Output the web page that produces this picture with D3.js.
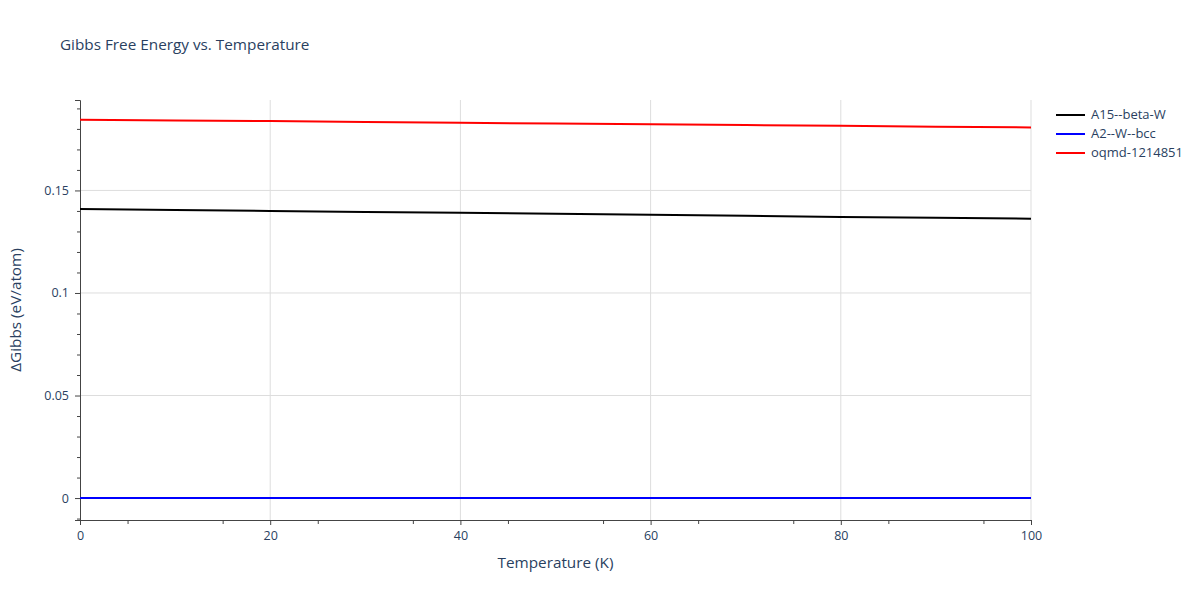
<!DOCTYPE html><html><head><meta charset="utf-8"><script src="https://d3js.org/d3.v7.min.js"></script>
<style>body{margin:0;background:#fff}text{font-family:"Open Sans",sans-serif}</style></head><body><svg id="c" width="1200" height="600"></svg><script>
const temps=[0,10,20,30,40,50,60,70,80,90,100];
const a15=[0.1410,0.1405,0.1400,0.1395,0.1391,0.1386,0.1381,0.1376,0.1371,0.1367,0.1362];
const a2=[0,0,0,0,0,0,0,0,0,0,0];
const oqmd=[0.1845,0.1841,0.1838,0.1834,0.1830,0.1826,0.1823,0.1819,0.1815,0.1811,0.1807];
const names=["A15--beta-W","A2--W--bcc","oqmd-1214851"];
const colors=["#000000","#0000ff","#ff0000"];
const xTicks=[0,20,40,60,80,100];
const yTicks=[0,0.05,0.1,0.15];
const series=[a15,a2,oqmd];
const svg=d3.select("#c");
const L=80,R=1031,T=100,B=520;
const x=d3.scaleLinear().domain([0,100]).range([L,R]);
const y=d3.scaleLinear().domain([-0.0107,0.1941]).range([B,T]);
svg.append("g").selectAll("line").data(xTicks.slice(1)).join("line").attr("x1",d=>x(d)).attr("x2",d=>x(d)).attr("y1",T).attr("y2",B).attr("stroke","#ddd");
svg.append("g").selectAll("line").data(yTicks).join("line").attr("x1",L).attr("x2",R).attr("y1",d=>y(d)).attr("y2",d=>y(d)).attr("stroke","#ddd");
svg.append("g").attr("transform",`translate(0,${B})`).call(d3.axisBottom(x).tickValues(xTicks).tickFormat(d3.format("d")).tickSize(5).tickPadding(6));
svg.append("g").attr("transform",`translate(0,${B})`).call(d3.axisBottom(x).tickValues(d3.range(5,100,10)).tickFormat("").tickSize(4)).select(".domain").remove();
svg.append("g").attr("transform",`translate(${L},0)`).call(d3.axisLeft(y).tickValues(yTicks).tickFormat(d=>d===0?"0":d3.format("~g")(d)).tickSize(5).tickPadding(6));
svg.append("g").attr("transform",`translate(${L},0)`).call(d3.axisLeft(y).tickValues(d3.range(-0.01,0.195,0.01).filter(v=>Math.abs((v*100)%5)>0.01&&Math.abs((v*100)%5-5)>0.01)).tickFormat("").tickSize(3)).select(".domain").remove();
svg.selectAll(".tick text").attr("fill","#2a3f5f").attr("font-size",12.5).style("font-family","'Open Sans',sans-serif");
svg.selectAll(".domain,.tick line").attr("stroke","#444");
const line=d3.line().x((d,i)=>x(temps[i])).y(d=>y(d));
series.forEach((s,i)=>svg.append("path").datum(s).attr("d",line).attr("fill","none").attr("stroke",colors[i]).attr("stroke-width",2));
svg.append("text").attr("x",60).attr("y",50).text("Gibbs Free Energy vs. Temperature").attr("font-size",15.3).attr("fill","#2a3f5f");
svg.append("text").attr("x",(L+R)/2).attr("y",568).attr("text-anchor","middle").text("Temperature (K)").attr("font-size",15.3).attr("fill","#2a3f5f");
svg.append("text").attr("transform",`translate(21,${(T+B)/2}) rotate(-90)`).attr("text-anchor","middle").text("ΔGibbs (eV/atom)").attr("font-size",15.3).attr("fill","#2a3f5f");
names.forEach((n,i)=>{const yy=115+i*19;
svg.append("line").attr("x1",1056).attr("x2",1085).attr("y1",yy).attr("y2",yy).attr("stroke",colors[i]).attr("stroke-width",2);
svg.append("text").attr("x",1091).attr("y",yy+4).text(n).attr("font-size",13).attr("fill","#2a3f5f");});
</script></body></html>
